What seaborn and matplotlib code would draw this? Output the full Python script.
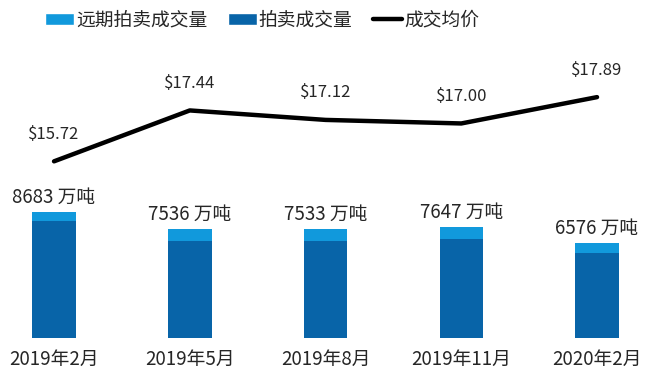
import numpy as np
import pandas as pd
import seaborn as sns
import matplotlib.pyplot as plt
from matplotlib.patches import Patch
from matplotlib.lines import Line2D

# 数据
periods = ["2019年2月", "2019年5月", "2019年8月", "2019年11月", "2020年2月"]
total_volume = [8683, 7536, 7533, 7647, 6576]      # 万吨, 柱顶
advance_volume = [625, 850, 870, 805, 725]         # 远期拍卖部分 (估计)
avg_price = [15.72, 17.44, 17.12, 17.00, 17.89]

LIGHT = "#1199dc"
DARK = "#0864a8"

sns.set_theme(style="white")
plt.rcParams["font.family"] = ["Noto Sans CJK SC", "DejaVu Sans"]

df = pd.DataFrame({
    "period": periods,
    "total": total_volume,
    "auction": np.array(total_volume) - np.array(advance_volume),
    "price": avg_price,
})

fig = plt.figure(figsize=(6.55, 3.8), dpi=100)
ax = fig.add_axes([0, (380 - 338) / 380, 1, 290 / 380])

# 堆叠柱：先画总量（浅色），再画拍卖部分（深色）
sns.barplot(data=df, x="period", y="total", color=LIGHT, width=0.32,
            saturation=1, linewidth=0, ax=ax)
sns.barplot(data=df, x="period", y="auction", color=DARK, width=0.32,
            saturation=1, linewidth=0, ax=ax)

for i, v in enumerate(df["total"]):
    ax.annotate(f"{v} 万吨", (i, v), xytext=(0, 10.5), textcoords="offset points",
                ha="center", va="center", fontsize=13.5)

ax.set_ylim(0, 20000)
ax.set_xlabel("")
ax.set_ylabel("")
ax.set_yticks([])
ax.tick_params(axis="x", length=0, pad=8, labelsize=13.5)

# 均价折线（右轴）
ax2 = ax.twinx()
sns.lineplot(x=np.arange(len(df)), y=df["price"], color="black", linewidth=3.2,
             ax=ax2)
for i, p in enumerate(df["price"]):
    ax2.annotate(f"${p:.2f}", (i, p), xytext=(0, 19.5), textcoords="offset points",
                 ha="center", va="center", fontsize=12)
ax2.set_ylim(9.75, 19.55)
ax2.set_yticks([])
ax2.set_ylabel("")

ax.set_xlim(-0.398, 4.427)
for a in (ax, ax2):
    for s in a.spines.values():
        s.set_visible(False)

handles = [
    Patch(facecolor=LIGHT, label="远期拍卖成交量"),
    Patch(facecolor=DARK, label="拍卖成交量"),
    Line2D([0], [0], color="black", linewidth=3.2, label="成交均价"),
]
fig.legend(handles=handles, loc="center", bbox_to_anchor=(262 / 655, 1 - 20 / 380),
           ncol=3, frameon=False, fontsize=13.5, handlelength=1.55,
           handletextpad=0.1, columnspacing=1.1, handleheight=0.6)

fig.savefig("out.png", dpi=100)
